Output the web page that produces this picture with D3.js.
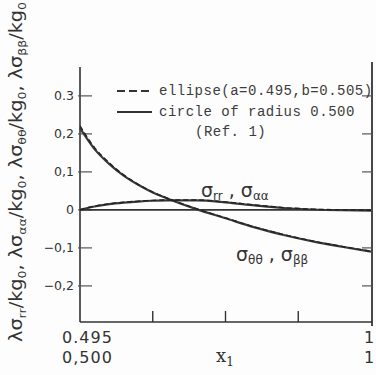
<!DOCTYPE html>
<html>
<head>
<meta charset="utf-8">
<script src="https://cdnjs.cloudflare.com/ajax/libs/d3/7.8.5/d3.min.js"></script>
<style>
  body { margin: 0; background: #fdfdfd; }
  svg { display: block; }
</style>
</head>
<body>
<div id="chart"></div>
<script>
// x1 positions along the boundary
var xVals = [0.5, 0.525, 0.55, 0.575, 0.6, 0.625, 0.65, 0.7, 0.75, 0.8, 0.85, 0.9, 0.95, 1.0];

// circle of radius 0.500 (Ref. 1)
var circleTheta = [0.215, 0.160, 0.121, 0.090, 0.066, 0.046, 0.030, 0.002, -0.022, -0.046, -0.066, -0.083, -0.097, -0.110];
var circleRr = [0, 0.009, 0.015, 0.019, 0.022, 0.024, 0.025, 0.025, 0.020, 0.012, 0.005, 0.001, -0.001, -0.002];

// ellipse (a=0.495, b=0.505)
var ellipseTheta = [0.221, 0.164, 0.124, 0.092, 0.067, 0.047, 0.031, 0.003, -0.021, -0.045, -0.065, -0.082, -0.096, -0.109];
var ellipseRr = [0, 0.010, 0.016, 0.020, 0.023, 0.025, 0.026, 0.026, 0.021, 0.013, 0.006, 0.002, 0.000, -0.001];

// tick labels
var yTicks = [0.3, 0.2, 0.1, 0, -0.1, -0.2];
var yTickLabels = ['0.3', '0,2', '0,1', '0', '\u22120,1', '\u22120,2'];
var xTicks = [0.5, 0.625, 0.75, 0.875, 1.0];

var width = 376, height = 375;
var ink = '#333';

var svg = d3.select('#chart')
  .append('svg')
  .attr('width', width)
  .attr('height', height);

// Scales
var x = d3.scaleLinear().domain([0.5, 1.0]).range([80, 371]);
var y = d3.scaleLinear().domain([-0.295, 0.376]).range([322, 67]);

// Left axis with inward ticks
svg.append('line')
  .attr('x1', 80).attr('x2', 80)
  .attr('y1', y(0.376)).attr('y2', y(-0.295))
  .attr('stroke', ink).attr('stroke-width', 1.6);

svg.selectAll('.ytickL')
  .data(yTicks)
  .enter().append('line')
  .attr('x1', 78).attr('x2', 92)
  .attr('y1', function(d) { return y(d); })
  .attr('y2', function(d) { return y(d); })
  .attr('stroke', '#555').attr('stroke-width', 1.2);

svg.selectAll('.ylab')
  .data(yTicks)
  .enter().append('text')
  .attr('x', 74)
  .attr('y', function(d) { return y(d); })
  .attr('dy', '0.36em')
  .attr('text-anchor', 'end')
  .attr('font-family', 'DejaVu Sans, sans-serif')
  .attr('font-size', 12.5)
  .attr('fill', ink)
  .text(function(d, i) { return yTickLabels[i]; });

// Right border with inward ticks
svg.append('line')
  .attr('x1', 372).attr('x2', 372)
  .attr('y1', 62).attr('y2', 326)
  .attr('stroke', ink).attr('stroke-width', 1.8);

svg.selectAll('.ytickR')
  .data(yTicks)
  .enter().append('line')
  .attr('x1', 362).attr('x2', 372)
  .attr('y1', function(d) { return y(d); })
  .attr('y2', function(d) { return y(d); })
  .attr('stroke', '#555').attr('stroke-width', 1.2);

// Bottom axis
svg.append('line')
  .attr('x1', 80).attr('x2', 372)
  .attr('y1', 322).attr('y2', 322)
  .attr('stroke', ink).attr('stroke-width', 1.6);

svg.selectAll('.xtick')
  .data(xTicks.slice(1, 4))
  .enter().append('line')
  .attr('x1', function(d) { return x(d); })
  .attr('x2', function(d) { return x(d); })
  .attr('y1', 322).attr('y2', 311)
  .attr('stroke', ink).attr('stroke-width', 1.4);

// x tick labels (left end and right end)
var xl = svg.append('g')
  .attr('font-family', 'DejaVu Sans, sans-serif')
  .attr('font-size', 16)
  .attr('letter-spacing', 1)
  .attr('fill', ink);
xl.append('text').attr('x', 62).attr('y', 343).text('0.495');
xl.append('text').attr('x', 62).attr('y', 363).text('0,500');
xl.append('text').attr('x', 364).attr('y', 343).text('1');
xl.append('text').attr('x', 364).attr('y', 363).text('1');

// x axis title
var xt = svg.append('text')
  .attr('x', 216).attr('y', 362)
  .attr('font-family', 'DejaVu Serif, serif')
  .attr('font-size', 18)
  .attr('fill', ink);
xt.append('tspan').text('x');
xt.append('tspan').attr('font-size', 12).attr('dy', 4).text('1');

// y axis title (rotated)
var yt = svg.append('text')
  .attr('transform', 'translate(22,' + 172 + ') rotate(-90)')
  .attr('text-anchor', 'middle')
  .attr('font-family', 'DejaVu Sans, sans-serif')
  .attr('font-size', 17)
  .attr('fill', ink)
  .attr('textLength', 340)
  .attr('lengthAdjust', 'spacingAndGlyphs');

var subs = ['rr', '\u03b1\u03b1', '\u03b8\u03b8', '\u03b2\u03b2'];
subs.forEach(function(s, i) {
  yt.append('tspan').attr('dy', i === 0 ? 0 : -4).text((i === 0 ? '' : ', ') + '\u03bb\u03c3');
  yt.append('tspan').attr('font-size', 11).attr('dy', 4).text(s);
  yt.append('tspan').attr('dy', -4).text('/kg');
  yt.append('tspan').attr('font-size', 11).attr('dy', 4).text('0');
});

// Zero line
svg.append('line')
  .attr('x1', x(0.5)).attr('x2', x(1.0))
  .attr('y1', y(0)).attr('y2', y(0))
  .attr('stroke', ink).attr('stroke-width', 1.6);

// Curves
var line = d3.line()
  .x(function(d) { return x(d[0]); })
  .y(function(d) { return y(d[1]); })
  .curve(d3.curveMonotoneX);

function pairs(vals) {
  return xVals.map(function(v, i) { return [v, vals[i]]; });
}

[circleTheta, circleRr].forEach(function(vals) {
  svg.append('path')
    .datum(pairs(vals))
    .attr('d', line)
    .attr('fill', 'none')
    .attr('stroke', '#3a3a3a')
    .attr('stroke-width', 2.2);
});

[ellipseTheta, ellipseRr].forEach(function(vals) {
  svg.append('path')
    .datum(pairs(vals))
    .attr('d', line)
    .attr('fill', 'none')
    .attr('stroke', '#222')
    .attr('stroke-width', 1.4)
    .attr('stroke-dasharray', '5,3');
});

// Legend
svg.append('line')
  .attr('x1', 117).attr('x2', 152).attr('y1', 91).attr('y2', 91)
  .attr('stroke', ink).attr('stroke-width', 2)
  .attr('stroke-dasharray', '8,4');
svg.append('line')
  .attr('x1', 117).attr('x2', 152).attr('y1', 112).attr('y2', 112)
  .attr('stroke', ink).attr('stroke-width', 2);

var lg = svg.append('g')
  .attr('font-family', 'Liberation Mono, DejaVu Sans Mono, monospace')
  .attr('font-size', 14)
  .attr('letter-spacing', 0.5)
  .attr('fill', '#3c3c3c');
lg.append('text').attr('x', 159).attr('y', 95).text('ellipse(a=0.495,b=0.505)');
lg.append('text').attr('x', 159).attr('y', 116).text('circle of radius 0.500');
lg.append('text').attr('x', 195).attr('y', 136).text('(Ref. 1)');

// Curve annotations
function sigmaLabel(px, py, s1, s2) {
  var t = svg.append('text')
    .attr('x', px).attr('y', py)
    .attr('font-family', 'DejaVu Sans, sans-serif')
    .attr('font-size', 19)
    .attr('fill', ink);
  t.append('tspan').text('\u03c3');
  t.append('tspan').attr('font-size', 12).attr('dy', 3).text(s1);
  t.append('tspan').attr('dy', -3).text(' , \u03c3');
  t.append('tspan').attr('font-size', 12).attr('dy', 3).text(s2);
}
sigmaLabel(201, 197, 'rr', '\u03b1\u03b1');
sigmaLabel(236, 261, '\u03b8\u03b8', '\u03b2\u03b2');
</script>
</body>
</html>
